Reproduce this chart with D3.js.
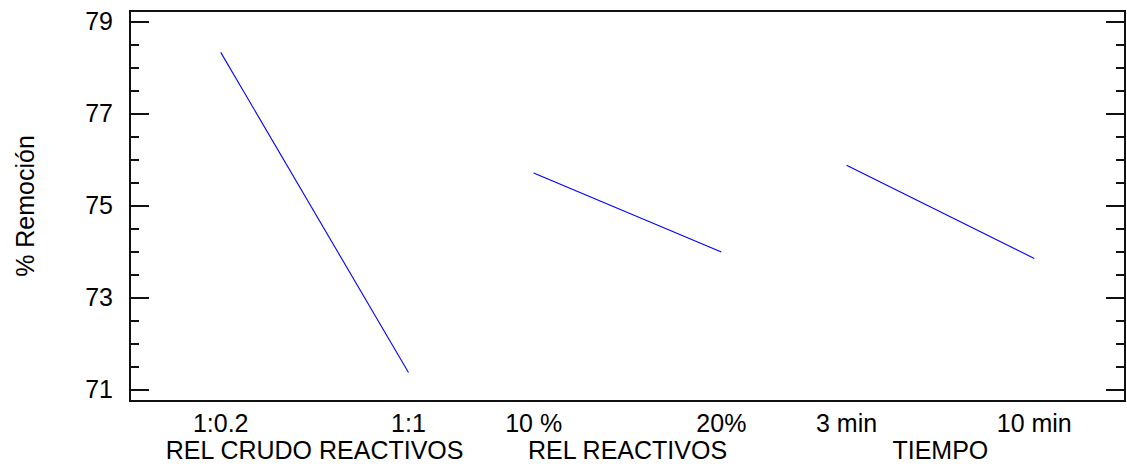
<!DOCTYPE html>
<html>
<head>
<meta charset="utf-8">
<script src="https://cdn.jsdelivr.net/npm/d3@7"></script>
<style>
  html, body { margin: 0; padding: 0; background: #fff; }
  svg { display: block; }
  text { font-family: "Liberation Sans", Arial, sans-serif; fill: #000; }
</style>
</head>
<body>
<svg id="chart" width="1127" height="467"></svg>
<script>
// Main effects plot for % Remoción
const factors = ["REL CRUDO REACTIVOS", "REL REACTIVOS", "TIEMPO"];
const lowLabels = ["1:0.2", "10 %", "3 min"];
const highLabels = ["1:1", "20%", "10 min"];
const lowMeans = [78.33, 75.71, 75.875];
const highMeans = [71.37, 73.99, 73.85];
const yTicks = [71, 73, 75, 77, 79];
const yTitle = "% Remoción";

const plotLeft = 130, plotRight = 1125, plotTop = 11, plotBottom = 401;
const fontSize = 25;

const svg = d3.select("#chart");

// Each factor occupies 5 units on the x axis; its two levels sit 3 units apart.
const pos = (i, j) => i * 5 + j * 3;
const x = d3.scaleLinear().domain([-1.45, 14.45]).range([plotLeft, plotRight]);
const y = d3.scaleLinear().domain([70.75, 79.23]).range([plotBottom, plotTop]);

// Minor ticks every 0.5 unit, majors at the labelled values
const allTicks = d3.range(71, 79.001, 0.5);
const isMajor = v => yTicks.some(t => Math.abs(t - v) < 1e-6);

const leftAxis = d3.axisLeft(y).tickValues(yTicks).tickSize(0).tickPadding(17)
  .tickFormat(d3.format("d"));
const gl = svg.append("g").attr("transform", `translate(${plotLeft},0)`).call(leftAxis);
gl.select(".domain").remove();
gl.selectAll("text").attr("font-size", fontSize).attr("font-family", null);

const tickG = svg.append("g").attr("stroke", "#111").attr("stroke-width", 2);
allTicks.forEach(v => {
  const len = isMajor(v) ? 19 : 9;
  const yy = Math.round(y(v));
  tickG.append("line").attr("x1", plotLeft).attr("x2", plotLeft + len).attr("y1", yy).attr("y2", yy);
  tickG.append("line").attr("x1", plotRight - len).attr("x2", plotRight).attr("y1", yy).attr("y2", yy);
});

// Frame
svg.append("rect")
  .attr("x", plotLeft).attr("y", plotTop)
  .attr("width", plotRight - plotLeft).attr("height", plotBottom - plotTop)
  .attr("fill", "none").attr("stroke", "#111").attr("stroke-width", 2);

// Effect lines
const line = d3.line().x(d => x(d[0])).y(d => y(d[1]));
factors.forEach((f, i) => {
  svg.append("path")
    .datum([[pos(i, 0), lowMeans[i]], [pos(i, 1), highMeans[i]]])
    .attr("d", line)
    .attr("fill", "none")
    .attr("stroke", "#0000ff")
    .attr("stroke-width", 1.1);
});

// Level labels and factor names
const lab = svg.append("g").attr("font-size", fontSize).attr("text-anchor", "middle");
factors.forEach((f, i) => {
  lab.append("text").attr("x", x(pos(i, 0))).attr("y", 432).text(lowLabels[i]);
  lab.append("text").attr("x", x(pos(i, 1))).attr("y", 432).text(highLabels[i]);
  lab.append("text").attr("x", x(pos(i, 0.5))).attr("y", 459).text(f);
});

// Y axis title
svg.append("text")
  .attr("transform", "translate(34,206) rotate(-90)")
  .attr("text-anchor", "middle")
  .attr("font-size", fontSize)
  .text(yTitle);
</script>
</body>
</html>
